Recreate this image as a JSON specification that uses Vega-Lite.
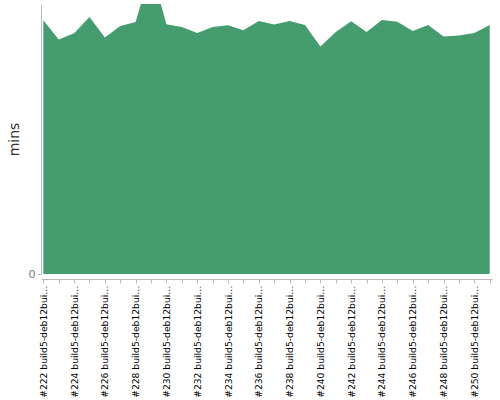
{
  "$schema": "https://vega.github.io/schema/vega-lite/v6.json",
  "autosize": {"type": "none"},
  "padding": {"left": 41, "top": 4, "right": 8, "bottom": 126},
  "width": 451,
  "height": 270,
  "config": {"view": {"stroke": null}, "font": "DejaVu Sans"},
  "data": {"values": [
    {"build": "#222 build5-deb12builder", "mins": 25.47},
    {"build": "#223 build5-deb12builder", "mins": 23.53},
    {"build": "#224 build5-deb12builder", "mins": 24.17},
    {"build": "#225 build5-deb12builder", "mins": 25.8},
    {"build": "#226 build5-deb12builder", "mins": 23.73},
    {"build": "#227 build5-deb12builder", "mins": 24.9},
    {"build": "#228 build5-deb12builder", "mins": 25.3},
    {"build": "#229 build5-deb12builder", "mins": 30.6},
    {"build": "#230 build5-deb12builder", "mins": 25.07},
    {"build": "#231 build5-deb12builder", "mins": 24.8},
    {"build": "#232 build5-deb12builder", "mins": 24.2},
    {"build": "#233 build5-deb12builder", "mins": 24.8},
    {"build": "#234 build5-deb12builder", "mins": 24.97},
    {"build": "#235 build5-deb12builder", "mins": 24.47},
    {"build": "#236 build5-deb12builder", "mins": 25.4},
    {"build": "#237 build5-deb12builder", "mins": 25.03},
    {"build": "#238 build5-deb12builder", "mins": 25.4},
    {"build": "#239 build5-deb12builder", "mins": 25.0},
    {"build": "#240 build5-deb12builder", "mins": 22.83},
    {"build": "#241 build5-deb12builder", "mins": 24.3},
    {"build": "#242 build5-deb12builder", "mins": 25.37},
    {"build": "#243 build5-deb12builder", "mins": 24.3},
    {"build": "#244 build5-deb12builder", "mins": 25.5},
    {"build": "#245 build5-deb12builder", "mins": 25.33},
    {"build": "#246 build5-deb12builder", "mins": 24.4},
    {"build": "#247 build5-deb12builder", "mins": 25.0},
    {"build": "#248 build5-deb12builder", "mins": 23.83},
    {"build": "#249 build5-deb12builder", "mins": 23.93},
    {"build": "#250 build5-deb12builder", "mins": 24.2},
    {"build": "#251 build5-deb12builder", "mins": 25.0}
  ]},
  "mark": {"type": "area", "color": "#459c6f", "clip": true, "opacity": 1},
  "encoding": {
    "x": {
      "field": "build", "type": "ordinal", "sort": null,
      "scale": {"type": "point", "padding": 0.15},
      "axis": {
        "title": null, "labelAngle": -90, "labelAlign": "right", "labelBaseline": "middle",
        "labelFontSize": 9.2, "labelColor": "#000", "labelLimit": 200, "labelPadding": 2,
        "labelOverlap": false,
        "labelExpr": "toNumber(substring(datum.value,1,4)) % 2 == 0 ? substring(datum.label,0,20) + '…' : ''",
        "offset": 5, "domainColor": "#bbb", "tickColor": "#bbb", "tickSize": 4, "grid": false
      }
    },
    "y": {
      "field": "mins", "type": "quantitative",
      "scale": {"domain": [0, 27.1], "nice": false, "zero": true},
      "axis": {
        "title": "mins", "titleFontSize": 14, "titleFontWeight": "normal", "titleColor": "#333",
        "titlePadding": 7, "values": [0], "labelFontSize": 11, "labelColor": "#777",
        "domainColor": "#bbb", "tickColor": "#bbb", "tickSize": 4, "grid": false
      }
    }
  }
}
